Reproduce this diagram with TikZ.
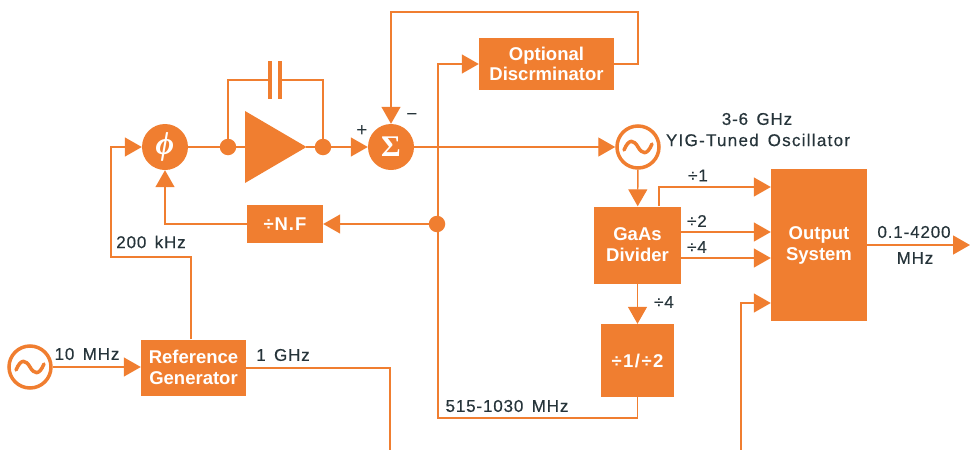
\documentclass[tikz,border=0pt]{standalone}
\usepackage{fontspec}
\setmainfont{Liberation Sans}
\newfontfamily\symfont{Liberation Serif}
\newfontfamily\labfont[LetterSpace=5,WordSpace=1.5,FakeBold=0.4]{Liberation Sans}
\usetikzlibrary{arrows.meta,calc}
\definecolor{orng}{HTML}{F07E30}
\definecolor{ink}{HTML}{26343A}
\tikzset{
  x=1pt,y=-1pt,
  conn/.style={draw=orng,line width=1.4pt,line join=miter},
  arr/.style={conn,-{Triangle[length=17pt,width=19pt,fill=orng]}},
  boxn/.style={fill=orng,text=white,inner sep=0pt,align=center,font=\fontsize{18.5}{22}\selectfont\bfseries},
  opcirc/.style={circle,fill=orng,text=white,inner sep=0pt,minimum size=46pt},
  dotn/.style={circle,fill=orng,inner sep=0pt,minimum size=16.500pt},
  osc/.style={circle,draw=orng,line width=3.5pt,fill=white,inner sep=0pt,minimum size=42pt},
  lab/.style={text=ink,inner sep=0pt,align=center,font=\labfont\fontsize{17}{21}\selectfont},
  sine/.style={draw=orng,line width=3.5pt,line cap=round},
}
\newcommand{\sinewave}[1]{%
  \draw[sine] ($(#1.center)+(-14,3)$) .. controls ($(#1.center)+(-9,-9)$) and ($(#1.center)+(-4,-7)$) .. (#1.center)
     .. controls ($(#1.center)+(4,7)$) and ($(#1.center)+(9,9)$) .. ($(#1.center)+(14,-3)$);}
\begin{document}
\begin{tikzpicture}
\useasboundingbox (0,0) rectangle (970,450);
% nodes
\node[opcirc,font=\fontsize{32}{32}\symfont\bfseries\itshape] (phi) at (165,147) {ϕ};
\node[opcirc,font=\fontsize{30}{30}\symfont\bfseries] (sum) at (391,147) {Σ};
\node[dotn] (d1) at (228,147) {};
\node[dotn] (d2) at (323,147) {};
\node[dotn] (d3) at (437,224) {};
\fill[orng] (245,111) -- (245,183) -- (306.5,147) -- cycle;
\coordinate (ampin) at (245,147);
\coordinate (ampout) at (306,147);
\fill[orng] (268,61) rectangle (272,99);
\fill[orng] (277.500,61) rectangle (281.500,99);
\coordinate (capl) at (270,80);
\coordinate (capr) at (279.500,80);
\node[boxn,minimum width=76pt,minimum height=38pt] (nf) at (285,224) {\addfontfeatures{LetterSpace=5}÷N.F};
\node[boxn,minimum width=135pt,minimum height=52pt] (disc) at (546.500,64) {Optional\\[-2pt]Discrminator};
\node[boxn,minimum width=105pt,minimum height=56pt] (ref) at (193.500,367.500) {Reference\\[-1pt]Generator};
\node[boxn,minimum width=87pt,minimum height=77pt] (gaas) at (637.500,245) {GaAs\\[-1pt]Divider};
\node[boxn,minimum width=96pt,minimum height=152pt] (outp) at (819,245) {Output\\[-1pt]System};
\node[boxn,minimum width=73pt,minimum height=73pt] (dv) at (637.500,360.500) {\addfontfeatures{LetterSpace=8}÷1/÷2};
\node[osc] (yig) at (638,147) {};
\sinewave{yig}
\node[osc] (xo) at (30,367) {};
\sinewave{xo}
% free ends
\coordinate (bl) at (390,450);
\coordinate (br) at (741,450);
\coordinate (outend) at (970,245);
% connectors
\draw[conn] (phi) -- (d1);
\draw[conn] (d1) -- (ampin);
\draw[conn] (ampout) -- (d2);
\draw[conn] (d1) |- (capl);
\draw[conn] (d2) |- (capr);
\draw[arr] (d2) -- (sum);
\draw[conn] (sum) -- (d3 |- sum);
\draw[arr] (d3 |- sum) -- (yig);
\draw[arr] (ref.north -| 191,0) |- (111,257) |- (phi);
\draw[arr] (nf) -| (phi);
\draw[arr] (d3) -- (nf);
\draw[arr] (dv.south) |- (438,418) |- (disc.west);
\draw[arr] (disc.east) -| (638,12) -| (sum.north);
\draw[arr] (yig) -- (gaas);
\draw[arr] (gaas.north -| 659,0) |- (outp.west |- 0,187);
\draw[arr] (gaas.east |- 0,232) -- (outp.west |- 0,232);
\draw[arr] (gaas.east |- 0,258) -- (outp.west |- 0,258);
\draw[arr] (gaas) -- (dv);
\draw[arr] (br) |- (outp.west |- 0,303);
\draw[arr] (xo) -- (ref.west |- xo);
\draw[conn] (ref.east |- 0,368) -| (bl);
\draw[arr] (outp.east) -- (outend);
% labels
\node[lab] (l1) at (757,119) {3-6 GHz};
\node[lab] (l2) at (758,140) {\addfontfeatures{LetterSpace=7.5}YIG-Tuned Oscillator};
\node[lab] (l3) at (698,175.500) {÷1};
\node[lab] (l4) at (697,221) {÷2};
\node[lab] (l5) at (697,247) {÷4};
\node[lab] (l6) at (664,302) {÷4};
\node[lab] (l7) at (914,232) {0.1-4200};
\node[lab] (l8) at (915,258) {MHz};
\node[lab] (l9) at (151,242) {200 kHz};
\node[lab] (l10) at (87,354) {10 MHz};
\node[lab] (l11) at (283,355) {1 GHz};
\node[lab] (l12) at (507,406) {515-1030 MHz};
\node[lab,font=\fontsize{19}{19}\selectfont] (l13) at (362,131) {+};
\node[lab,font=\fontsize{19}{19}\selectfont] (l14) at (412,117) {−};
\end{tikzpicture}
\end{document}
